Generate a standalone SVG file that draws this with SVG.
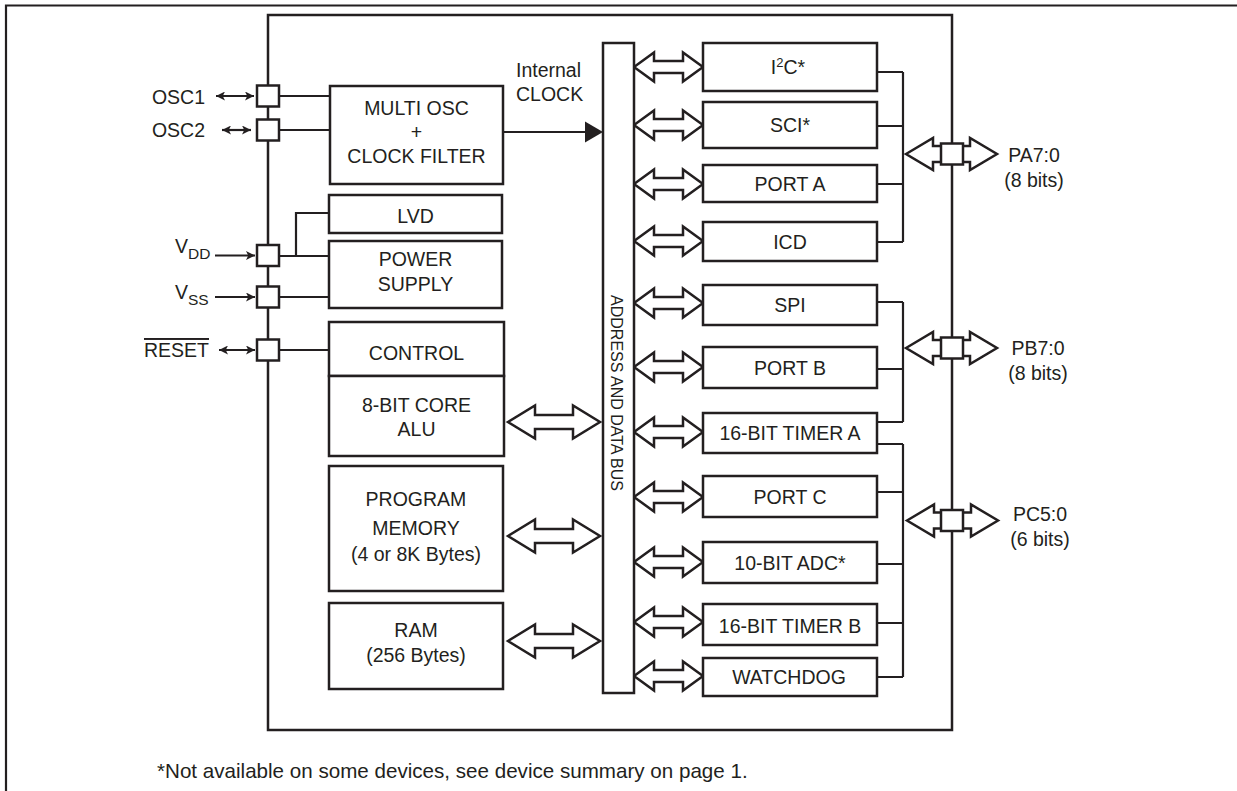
<svg xmlns="http://www.w3.org/2000/svg" width="1237" height="791" viewBox="0 0 1237 791">
<style>
.box{fill:#fff;stroke:#231f20;stroke-width:2.5}
.ln{fill:none;stroke:#231f20;stroke-width:2.2}
.ha{fill:#fff;stroke:#231f20;stroke-width:2.5;stroke-linejoin:miter}
.t{font-family:"Liberation Sans",Arial,Helvetica,sans-serif;font-size:19.5px;fill:#231f20}
.c{text-anchor:middle}
.e{text-anchor:end}
</style>
<defs>
<marker id="ah" viewBox="0 0 10 10" refX="10" refY="5" markerUnits="userSpaceOnUse" markerWidth="10" markerHeight="9" orient="auto-start-reverse">
<path d="M0,0 L10,5 L0,10 L2.5,5 Z" fill="#231f20"/>
</marker>
<path id="arrR" d="M0,0 L20,-14.5 V-6 H49 V-14.5 L69,0 L49,14.5 V6 H20 V14.5 Z"/>
<path id="arrL" d="M0,0 L27,-16.5 V-7 H65 V-16.5 L92,0 L65,16.5 V7 H27 V16.5 Z"/>
<path id="arrP" d="M0,0 L27,-16 V-8 H64 V-16 L91,0 L64,16 V8 H27 V16 Z"/>
</defs>
<rect width="1237" height="791" fill="#fff"/>
<path id="frame" class="ln" d="M6,791 V5.5 H1237" stroke-width="2.5"/>
<rect id="chip" class="box" x="268" y="15" width="684" height="715"/>

<g id="connectors">
<path class="ln" d="M279,96 H330 M279,130 H330 M279,256 H329 M296,256 V213 H329 M279,297 H329 M279,350 H329"/>
<path class="ln" d="M503,132 H587" stroke-width="3"/>
<polygon points="585,121.5 603,132 585,142.5" fill="#231f20"/>
<path class="ln" d="M216,96 H254" stroke-width="2.5" marker-start="url(#ah)" marker-end="url(#ah)"/>
<path class="ln" d="M222,130 H251" stroke-width="2.5" marker-start="url(#ah)" marker-end="url(#ah)"/>
<path class="ln" d="M215,255.5 H255" stroke-width="2.5" marker-end="url(#ah)"/>
<path class="ln" d="M215,297 H255" stroke-width="2.5" marker-end="url(#ah)"/>
<path class="ln" d="M219,350 H255" stroke-width="2.5" marker-start="url(#ah)" marker-end="url(#ah)"/>
<path class="ln" d="M877,72 H903 M877,126 H903 M877,184 H903 M877,242 H903 M903,72 V242"/>
<path class="ln" d="M877,302 H903 M877,369 H903 M877,422 H903 M903,302 V422"/>
<path class="ln" d="M877,444 H903 M877,492 H903 M877,564 H903 M877,623 H903 M877,677 H903 M903,444 V677"/>
<g class="ha">
<use href="#arrL" x="508" y="422"/>
<use href="#arrL" x="508" y="536"/>
<use href="#arrL" x="508" y="641"/>
<use href="#arrR" x="634" y="67"/>
<use href="#arrR" x="634" y="125"/>
<use href="#arrR" x="634" y="184"/>
<use href="#arrR" x="634" y="241"/>
<use href="#arrR" x="634" y="303"/>
<use href="#arrR" x="634" y="367"/>
<use href="#arrR" x="634" y="432"/>
<use href="#arrR" x="634" y="497"/>
<use href="#arrR" x="634" y="562"/>
<use href="#arrR" x="634" y="622"/>
<use href="#arrR" x="634" y="676"/>
<use href="#arrP" x="906" y="154"/>
<use href="#arrP" x="906" y="348"/>
<use href="#arrP" x="907" y="520.5"/>
</g>
</g>

<g id="pin-osc1"><rect class="box" x="257" y="85.5" width="22" height="21"/><text class="t e" x="205" y="103.5">OSC1</text></g>
<g id="pin-osc2"><rect class="box" x="257" y="119.5" width="22" height="21"/><text class="t e" x="205" y="137">OSC2</text></g>
<g id="pin-vdd"><rect class="box" x="257" y="245" width="22" height="21"/><text class="t" x="175" y="253">V<tspan font-size="15.5px" dy="6">DD</tspan></text></g>
<g id="pin-vss"><rect class="box" x="257" y="286.5" width="22" height="21"/><text class="t" x="175" y="299">V<tspan font-size="15.5px" dy="6">SS</tspan></text></g>
<g id="pin-reset"><rect class="box" x="257" y="339.5" width="22" height="21"/><text class="t e" x="209" y="357" text-decoration="overline">RESET</text></g>
<g id="pin-pa"><rect class="box" x="941" y="143.5" width="22" height="21"/><text class="t c" x="1034" y="161.5">PA7:0</text><text class="t c" x="1034" y="186.5">(8 bits)</text></g>
<g id="pin-pb"><rect class="box" x="941" y="337.5" width="22" height="21"/><text class="t c" x="1038" y="355">PB7:0</text><text class="t c" x="1038" y="380">(8 bits)</text></g>
<g id="pin-pc"><rect class="box" x="941" y="510" width="22" height="21"/><text class="t c" x="1040" y="520.5">PC5:0</text><text class="t c" x="1040" y="545.5">(6 bits)</text></g>

<g id="clock-label"><text class="t" x="516" y="76.5">Internal</text><text class="t" x="516" y="100.5">CLOCK</text></g>

<g id="osc"><rect class="box" x="330" y="86" width="173" height="98"/><text class="t c" x="416.5" y="115">MULTI OSC</text><text class="t c" x="416.5" y="139">+</text><text class="t c" x="416.5" y="163">CLOCK FILTER</text></g>
<g id="lvd"><rect class="box" x="329" y="195" width="173" height="38"/><text class="t c" x="415.5" y="223">LVD</text></g>
<g id="power"><rect class="box" x="329" y="241" width="173" height="67"/><text class="t c" x="415.5" y="266">POWER</text><text class="t c" x="415.5" y="290.5">SUPPLY</text></g>
<g id="control"><rect class="box" x="329" y="322" width="175" height="54"/><text class="t c" x="416.5" y="360">CONTROL</text></g>
<g id="core"><rect class="box" x="329" y="376" width="175" height="80"/><text class="t c" x="416.5" y="411.5">8-BIT CORE</text><text class="t c" x="416.5" y="436">ALU</text></g>
<g id="progmem"><rect class="box" x="329" y="466" width="174" height="125"/><text class="t c" x="416" y="506">PROGRAM</text><text class="t c" x="416" y="535">MEMORY</text><text class="t c" x="416" y="561">(4 or 8K Bytes)</text></g>
<g id="ram"><rect class="box" x="329" y="603" width="174" height="86"/><text class="t c" x="416" y="637">RAM</text><text class="t c" x="416" y="662">(256 Bytes)</text></g>

<g id="bus"><rect class="box" x="603" y="43" width="31" height="650"/><text class="t c" style="font-size:16px" transform="translate(611,393) rotate(90)">ADDRESS AND DATA BUS</text></g>

<g id="i2c"><rect class="box" x="703" y="43" width="174" height="48"/><text class="t c" x="788" y="74">I<tspan font-size="13px" dy="-7">2</tspan><tspan dy="7">C*</tspan></text></g>
<g id="sci"><rect class="box" x="703" y="102" width="174" height="46"/><text class="t c" x="790" y="132">SCI*</text></g>
<g id="porta"><rect class="box" x="703" y="165" width="174" height="37"/><text class="t c" x="790" y="190.5">PORT A</text></g>
<g id="icd"><rect class="box" x="703" y="222" width="174" height="39"/><text class="t c" x="790" y="248.5">ICD</text></g>
<g id="spi"><rect class="box" x="703" y="285" width="174" height="40"/><text class="t c" x="790" y="312">SPI</text></g>
<g id="portb"><rect class="box" x="703" y="347" width="174" height="41"/><text class="t c" x="790" y="374.5">PORT B</text></g>
<g id="timera"><rect class="box" x="703" y="413" width="174" height="40"/><text class="t c" x="790" y="440">16-BIT TIMER A</text></g>
<g id="portc"><rect class="box" x="703" y="476" width="174" height="41"/><text class="t c" x="790" y="503.5">PORT C</text></g>
<g id="adc"><rect class="box" x="703" y="542" width="174" height="41"/><text class="t c" x="790" y="569.5">10-BIT ADC*</text></g>
<g id="timerb"><rect class="box" x="703" y="604" width="174" height="41"/><text class="t c" x="790" y="633">16-BIT TIMER B</text></g>
<g id="watchdog"><rect class="box" x="703" y="658" width="174" height="38"/><text class="t c" x="789" y="684">WATCHDOG</text></g>

<text id="footnote" class="t" style="font-size:20.6px" x="157" y="778">*Not available on some devices, see device summary on page 1.</text>
</svg>
